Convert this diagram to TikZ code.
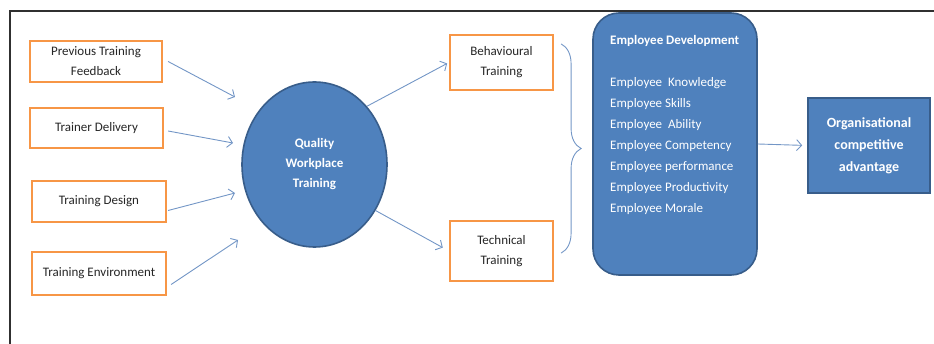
\documentclass[tikz,border=0pt]{standalone}
\usepackage{fontspec}
\setmainfont{Carlito}
\usetikzlibrary{positioning,arrows.meta,shapes.geometric,decorations.pathreplacing}
\definecolor{boxorange}{HTML}{F79646}
\definecolor{fillblue}{HTML}{4F81BD}
\definecolor{edgeblue}{HTML}{385D8A}
\definecolor{linkblue}{HTML}{7396C6}
\definecolor{framegray}{HTML}{303030}
\tikzset{
  factor/.style={draw=boxorange,line width=2.2pt,fill=white,text=black!85,
    align=center,inner sep=0pt,font=\fontsize{13}{20}\selectfont},
  bluebox/.style={draw=edgeblue,line width=1.6pt,fill=fillblue,text=white,
    align=center,inner sep=0pt},
  link/.style={draw=linkblue,line width=0.9pt,-{Straight Barb[length=5pt,width=11pt]}},
}
\begin{document}
\begin{tikzpicture}[x=1pt,y=-1pt]
\useasboundingbox (0,0) rectangle (934,344);
\draw[framegray,line width=1.2pt] (10,344) -- (10,11) -- (934,11);

% inputs
\node[factor,minimum width=132pt,minimum height=41pt] (ptf) at (96,61.5) {Previous Training\\Feedback};
\node[factor,minimum width=133pt,minimum height=40pt] (tdel) at (96.5,128) {Trainer Delivery};
\node[factor,minimum width=134pt,minimum height=41pt] (tdes) at (99,201.5) {Training Design};
\node[factor,minimum width=134pt,minimum height=43pt] (tenv) at (99,273.5) {Training Environment};

\node[bluebox,ellipse,minimum width=145pt,minimum height=165pt,
  font=\bfseries\fontsize{13}{20}\selectfont] (qwt) at (314.5,164.5) {Quality\\Workplace\\Training};

\node[factor,minimum width=103pt,minimum height=55pt] (beh) at (501.5,62.5) {Behavioural\\Training};
\node[factor,minimum width=103pt,minimum height=60pt] (tech) at (501.5,251) {Technical\\Training};

\node[bluebox,rounded corners=26pt,minimum width=164pt,minimum height=262pt] (empdev) at (675,144) {};
\node[anchor=north west,inner sep=0pt,align=left,text=white,
  font=\fontsize{13}{21}\selectfont] (emplist) at (610,35)
  {\textbf{Employee Development}\\[21pt]
   Employee~ Knowledge\\Employee Skills\\Employee~ Ability\\Employee Competency\\
   Employee performance\\Employee Productivity\\Employee Morale};

\node[bluebox,minimum width=122pt,minimum height=95pt,
  font=\bfseries\fontsize{14}{22}\selectfont] (org) at (869,145.5) {Organisational\\competitive\\advantage};

\coordinate (q1) at (235,97);
\coordinate (q2) at (233,143);
\coordinate (q3) at (235,193);
\coordinate (q4) at (238,240);
\draw[link] ([xshift=5pt]ptf.east) -- (q1);
\draw[link] ([xshift=4pt,yshift=-3pt]tdel.east) -- (q2);
\draw[link] ([xshift=1pt,yshift=-9pt]tdes.east) -- (q3);
\draw[link] ([xshift=4pt,yshift=-11pt]tenv.east) -- (q4);

\draw[link,shorten >=2pt] (qwt.48) -- (beh.west);
\draw[link,shorten >=7pt] (qwt.-37) -- (tech.west);

\draw[linkblue,line width=0.9pt,decorate,decoration={brace,amplitude=20pt}]
  ([xshift=7pt,yshift=-10pt]beh.north east) -- ([xshift=7pt,yshift=29pt]tech.south east);

\draw[link,shorten >=5pt] (empdev.east) -- (org.west);
\end{tikzpicture}
\end{document}
